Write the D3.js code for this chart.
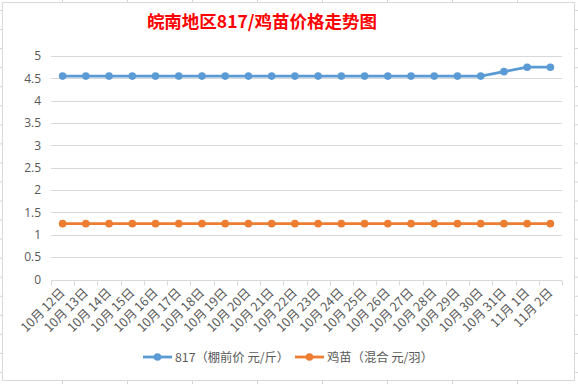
<!DOCTYPE html>
<html><head><meta charset="utf-8">
<script src="https://cdn.jsdelivr.net/npm/d3@7"></script>
<style>
html,body{margin:0;padding:0;background:#fff;}
svg{display:block;font-family:"Noto Sans CJK SC","Noto Sans",sans-serif;}
</style></head>
<body><svg id="c" width="578" height="384"></svg>
<script>
const categories = ["10月12日","10月13日","10月14日","10月15日","10月16日","10月17日","10月18日","10月19日","10月20日","10月21日","10月22日","10月23日","10月24日","10月25日","10月26日","10月27日","10月28日","10月29日","10月30日","10月31日","11月1日","11月2日"];
const price817 = [4.55,4.55,4.55,4.55,4.55,4.55,4.55,4.55,4.55,4.55,4.55,4.55,4.55,4.55,4.55,4.55,4.55,4.55,4.55,4.65,4.75,4.75];
const chickPrice = [1.25,1.25,1.25,1.25,1.25,1.25,1.25,1.25,1.25,1.25,1.25,1.25,1.25,1.25,1.25,1.25,1.25,1.25,1.25,1.25,1.25,1.25];
const yTicks = [0,0.5,1,1.5,2,2.5,3,3.5,4,4.5,5];
const seriesNames = ["817（棚前价 元/斤）","鸡苗（混合 元/羽）"];
const colors = ["#5b9bd5","#ed7d31"];
const title = "皖南地区817/鸡苗价格走势图";

const svg = d3.select("#c");
// spreadsheet cell grid behind
const bg = svg.append("g");
d3.range(-3, 10).forEach(i => { const xx = 62 + 65*i + 0.5; bg.append("line").attr("x1",xx).attr("x2",xx).attr("y1",0).attr("y2",384).attr("stroke","#d4d4d4"); });
d3.range(-1, 21).forEach(i => { const yy = 10 + 19.05*i + 0.5; bg.append("line").attr("x1",0).attr("x2",578).attr("y1",yy).attr("y2",yy).attr("stroke","#d4d4d4"); });
// chart area
svg.append("rect").attr("x",2.5).attr("y",2.5).attr("width",572).attr("height",378).attr("fill","#fff").attr("stroke","#d9d9d9");

const pLeft = 51, pRight = 562, pTop = 56, pBottom = 279.5;
const x = d3.scaleBand().domain(categories).range([pLeft, pRight]);
const y = d3.scaleLinear().domain([0,5]).range([pBottom, pTop]);

// title
svg.append("text").attr("x",262).attr("y",28).attr("text-anchor","middle")
  .attr("fill","#ff0000").attr("font-weight","bold").attr("font-size",17.5).text(title);

// grid
svg.append("g").selectAll("line").data(yTicks.filter(d=>d>0)).join("line")
  .attr("x1",pLeft).attr("x2",pRight).attr("y1",d=>Math.round(y(d))+0.5).attr("y2",d=>Math.round(y(d))+0.5)
  .attr("stroke","#d9d9d9");

// y axis labels
const yAxis = d3.axisLeft(y).tickValues(yTicks).tickSize(0).tickPadding(0).tickFormat(d=>String(d));
const gy = svg.append("g").attr("transform",`translate(${pLeft-10},0)`).call(yAxis);
gy.select(".domain").remove();
gy.selectAll("text").attr("fill","#595959").attr("font-size",12).attr("font-family","Open Sans, Noto Sans, sans-serif");

// x axis
const gx = svg.append("g").attr("transform",`translate(0,${Math.round(pBottom)+0.5})`);
gx.append("line").attr("x1",pLeft).attr("x2",pRight).attr("stroke","#d9d9d9");
const bounds = categories.map(c=>x(c)).concat([pRight]);
gx.selectAll("line.tk").data(bounds).join("line").attr("class","tk")
  .attr("x1",d=>Math.round(d)+0.5).attr("x2",d=>Math.round(d)+0.5).attr("y1",0).attr("y2",5).attr("stroke","#d9d9d9");
gx.selectAll("text").data(categories).join("text")
  .attr("transform",d=>`translate(${x(d)+x.bandwidth()/2+3},${13}) rotate(-45)`)
  .attr("text-anchor","end").attr("fill","#595959").attr("font-size",12.5)
  .attr("xml:space","preserve").text(d=>d.replace("月","月 "));

// lines
const series = [price817, chickPrice];
series.forEach((vals,i)=>{
  const line = d3.line().x((d,j)=>x(categories[j])+x.bandwidth()/2).y(d=>y(d));
  svg.append("path").datum(vals).attr("d",line).attr("fill","none").attr("stroke",colors[i]).attr("stroke-width",2.8).attr("stroke-linejoin","round");
  svg.append("g").selectAll("circle").data(vals).join("circle")
    .attr("cx",(d,j)=>x(categories[j])+x.bandwidth()/2).attr("cy",d=>y(d)).attr("r",3.8).attr("fill",colors[i]);
});

// legend
const lg = [{x:143,name:seriesNames[0]},{x:295,name:seriesNames[1]}];
lg.forEach((l,i)=>{
  const g = svg.append("g").attr("transform",`translate(${l.x},357)`);
  g.append("line").attr("x1",0).attr("x2",29).attr("stroke",colors[i]).attr("stroke-width",2.8);
  g.append("circle").attr("cx",14.5).attr("r",3.8).attr("fill",colors[i]);
  g.append("text").attr("x",32).attr("y",4.5).attr("fill","#595959").attr("font-size",12.3).text(l.name);
});
</script></body></html>
